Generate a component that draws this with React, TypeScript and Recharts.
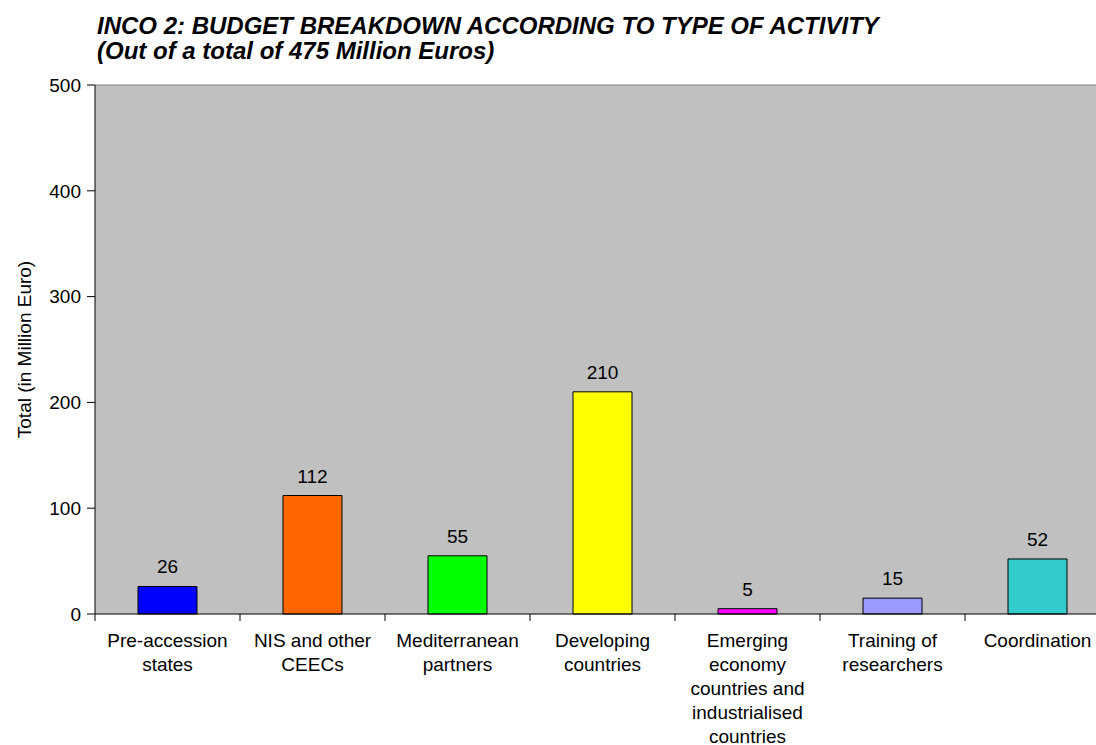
import * as React from "react";
import {
  BarChart,
  Bar,
  XAxis,
  YAxis,
  CartesianGrid,
  Cell,
  LabelList,
  ReferenceLine,
  Text,
} from "recharts";

const CATEGORIES = [
  "Pre-accession states",
  "NIS and other CEECs",
  "Mediterranean partners",
  "Developing countries",
  "Emerging economy countries and industrialised countries",
  "Training of researchers",
  "Coordination",
];
const BUDGET = [26, 112, 55, 210, 5, 15, 52];
const BAR_COLORS = ["#0000ff", "#ff6600", "#00ff00", "#ffff00", "#ff00ff", "#9999ff", "#33cccc"];
const Y_TICKS = [0, 100, 200, 300, 400, 500];

const TITLE_1 = "INCO 2: BUDGET BREAKDOWN ACCORDING TO TYPE OF ACTIVITY";
const TITLE_2 = "(Out of a total of 475 Million Euros)";
const Y_LABEL = "Total (in Million Euro)";

const FONT = "Arial, 'Liberation Sans', sans-serif";
const W = 1096;
const H = 745;
// the original plot runs a little past the right edge of the picture
const CHART_W = 1110;
const MARGIN = { top: 85, right: 0, bottom: 101, left: 0 };
const Y_AXIS_W = 95;
const BAND = (CHART_W - MARGIN.left - MARGIN.right - Y_AXIS_W) / CATEGORIES.length;
const TICK_STYLE = { fontSize: 19, fontFamily: FONT };

const data = CATEGORIES.map((name, i) => ({ name, value: BUDGET[i] }));

function CategoryTick(props: any) {
  const { x, y, payload, index } = props;
  const left = x - BAND / 2;
  return (
    <g>
      <line x1={left} y1={y} x2={left} y2={y + 7} stroke="#000" />
      {index === CATEGORIES.length - 1 && (
        <line x1={left + BAND} y1={y} x2={left + BAND} y2={y + 7} stroke="#000" />
      )}
      <Text
        x={x}
        y={y + 20}
        width={118}
        textAnchor="middle"
        verticalAnchor="start"
        lineHeight={24}
        style={TICK_STYLE}
        fontSize={19}
        fontFamily={FONT}
        fill="#000"
      >
        {payload.value}
      </Text>
    </g>
  );
}

export default function App() {
  return (
    <div
      style={{
        position: "absolute",
        left: 0,
        top: 0,
        width: W,
        height: H,
        background: "#fff",
        overflow: "hidden",
      }}
    >
      <svg width={W} height={80} style={{ position: "absolute", left: 0, top: 0 }}>
        <text x={97} y={34} fontFamily={FONT} fontSize={24} fontWeight="bold" fontStyle="italic" fill="#000">
          {TITLE_1}
        </text>
        <text x={97} y={59} fontFamily={FONT} fontSize={24} fontWeight="bold" fontStyle="italic" fill="#000">
          {TITLE_2}
        </text>
      </svg>
      <div style={{ position: "absolute", left: 0, top: 0 }}>
        <BarChart width={CHART_W} height={H} data={data} margin={MARGIN}>
          <CartesianGrid fill="#c0c0c0" horizontal={false} vertical={false} />
          <ReferenceLine y={500} stroke="#808080" />
          <XAxis
            dataKey="name"
            interval={0}
            tickLine={false}
            tickSize={0}
            tickMargin={0}
            axisLine={{ stroke: "#000" }}
            tick={<CategoryTick />}
          />
          <YAxis
            width={Y_AXIS_W}
            domain={[0, 500]}
            ticks={Y_TICKS}
            tickSize={8}
            tickMargin={6}
            tickLine={{ stroke: "#000" }}
            axisLine={{ stroke: "#000" }}
            tick={{ fill: "#000", fontSize: 19, fontFamily: FONT }}
            label={{
              value: Y_LABEL,
              angle: -90,
              position: "insideLeft",
              dx: 19,
              style: { textAnchor: "middle", fill: "#000", fontSize: 19, fontFamily: FONT },
            }}
          />
          <Bar dataKey="value" barSize={59} stroke="#000" strokeWidth={1} isAnimationActive={false}>
            {data.map((d, i) => (
              <Cell key={d.name} fill={BAR_COLORS[i]} />
            ))}
            <LabelList dataKey="value" position="top" offset={13} fill="#000" fontSize={19} fontFamily={FONT} />
          </Bar>
        </BarChart>
      </div>
    </div>
  );
}
